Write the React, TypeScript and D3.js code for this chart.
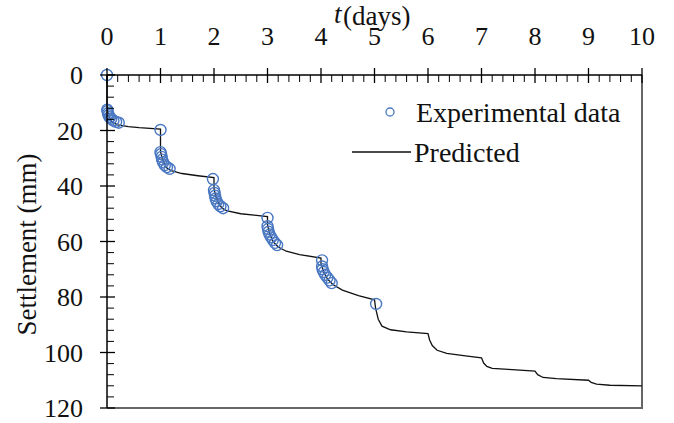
import * as d3 from "d3";

// t (days), settlement (mm)
const expT = [
  0, 0.005, 0.01, 0.02, 0.03, 0.05, 0.08, 0.12, 0.17, 0.22,
  1.0, 1.0, 1.01, 1.02, 1.03, 1.05, 1.08, 1.12, 1.17,
  1.98, 2.0, 2.01, 2.02, 2.03, 2.05, 2.08, 2.12, 2.17,
  3.0, 3.0, 3.01, 3.02, 3.04, 3.07, 3.1, 3.14, 3.18,
  4.02, 4.02, 4.03, 4.05, 4.08, 4.12, 4.16, 4.2,
  5.03,
];
const expS = [
  0, 12.5, 13, 13.8, 14.5, 15.2, 15.8, 16.4, 16.9, 17.2,
  19.8, 27.8, 28.5, 29.5, 30.5, 31.5, 32.5, 33.2, 33.8,
  37.5, 41.5, 42.5, 43.5, 44.5, 45.5, 46.5, 47.3, 48,
  51.5, 54.5, 55.5, 56.5, 57.5, 58.5, 59.5, 60.5, 61.3,
  66.8, 69, 70, 71, 72, 73, 74, 75,
  82.5,
];

const predT = [
  0, 0, 0.02, 0.05, 0.1, 0.2, 0.4, 0.6, 1.0,
  1.0, 1.03, 1.07, 1.12, 1.2, 1.4, 1.7, 2.0,
  2.0, 2.03, 2.08, 2.15, 2.25, 2.5, 2.75, 3.0,
  3.0, 3.04, 3.1, 3.2, 3.35, 3.6, 4.0,
  4.0, 4.05, 4.12, 4.22, 4.4, 4.7, 5.0,
  5.02, 5.07, 5.14, 5.3, 5.6, 6.0,
  6.03, 6.08, 6.17, 6.35, 6.7, 7.0,
  7.04, 7.1, 7.2, 7.5, 8.0,
  8.05, 8.15, 8.4, 9.0,
  9.05, 9.15, 9.4, 10,
];
const predS = [
  0, 11, 13.5, 15.5, 17, 18, 18.6, 19, 19.5,
  27.5, 30, 32, 33.5, 34.5, 35.5, 36.3, 37,
  41, 43.5, 46, 48, 49, 50, 50.5, 51,
  54, 57, 60, 62, 63.5, 64.7, 66,
  68, 71, 73.5, 75.5, 77.5, 79.5, 81,
  84, 88, 90.5, 91.8, 92.6, 93.2,
  95.5, 97.5, 99.2, 100.3, 101.2, 101.9,
  103.8, 105, 105.7, 106.1, 106.7,
  108, 109, 109.4, 110,
  110.8, 111.4, 111.8, 112,
];

const xTicks = [0, 1, 2, 3, 4, 5, 6, 7, 8, 9, 10];
const yTicks = [0, 20, 40, 60, 80, 100, 120];

const W = 674;
const H = 423;
const left = 107;
const right = 642;
const top = 75;
const bottom = 408;
const FONT = "'Liberation Serif', 'Times New Roman', serif";

export default function App() {
  const x = d3.scaleLinear().domain([0, 10]).range([left, right]);
  const y = d3.scaleLinear().domain([0, 120]).range([top, bottom]);

  const xMinor = d3.range(0, 50).map((i) => i * 0.2).filter((v) => Math.abs(v - Math.round(v)) > 1e-6);
  const yMinor = d3.range(0, 30).map((i) => i * 4).filter((v) => v % 20 !== 0);

  const pred = predT.map((t, i) => [t, predS[i]] as [number, number]);
  const line = d3
    .line<[number, number]>()
    .x((d) => x(d[0]))
    .y((d) => y(d[1]));

  return (
    <svg
      width={W}
      height={H}
      style={{ position: "absolute", left: 0, top: 0, background: "#fff" }}
      fontFamily={FONT}
    >
      {/* frame */}
      <line x1={right} x2={right} y1={top} y2={bottom} stroke="#666" strokeWidth={2} />
      <line x1={left} x2={right + 1} y1={bottom} y2={bottom} stroke="#666" strokeWidth={2} />

      {/* predicted */}
      <path d={line(pred) ?? ""} fill="none" stroke="#111" strokeWidth={1.3} />

      {/* experimental */}
      {expT.map((t, i) => (
        <circle
          key={i}
          cx={x(t)}
          cy={y(expS[i])}
          r={5.5}
          fill="none"
          stroke="#4a78c2"
          strokeWidth={1.4}
        />
      ))}

      {/* top axis */}
      <line x1={left} x2={right} y1={top} y2={top} stroke="#000" strokeWidth={1.5} />
      {xMinor.map((v, i) => (
        <line key={"xm" + i} x1={x(v)} x2={x(v)} y1={top} y2={top + 7} stroke="#000" strokeWidth={1} />
      ))}
      {xTicks.map((v) => (
        <g key={"xt" + v}>
          <line x1={x(v)} x2={x(v)} y1={top - 7} y2={top + 8} stroke="#000" strokeWidth={1.3} />
          <text x={x(v)} y={45} textAnchor="middle" fontSize={26} fill="#111">
            {v}
          </text>
        </g>
      ))}

      {/* left axis */}
      <line x1={left} x2={left} y1={top} y2={bottom} stroke="#000" strokeWidth={1.5} />
      {yMinor.map((v, i) => (
        <line key={"ym" + i} x1={left} x2={left + 7} y1={y(v)} y2={y(v)} stroke="#000" strokeWidth={1} />
      ))}
      {yTicks.map((v) => (
        <g key={"yt" + v}>
          <line x1={left - 7} x2={left + 8} y1={y(v)} y2={y(v)} stroke="#000" strokeWidth={1.3} />
          <text x={83} y={y(v) + 9} textAnchor="end" fontSize={26} fill="#111">
            {v}
          </text>
        </g>
      ))}

      {/* titles */}
      <text x={334} y={23} fontSize={27} fill="#111" fontStyle="italic">
        t
      </text>
      <text x={343} y={25} fontSize={27} fill="#111">
        (days)
      </text>
      <text
        transform={`translate(36,${(147 + 342) / 2}) rotate(-90)`}
        textAnchor="middle"
        fontSize={27}
        fill="#111"
      >
        Settlement (mm)
      </text>

      {/* legend */}
      <circle cx={390} cy={112} r={4} fill="none" stroke="#4a78c2" strokeWidth={1.3} />
      <text x={416} y={122} fontSize={28} fill="#111">
        Experimental data
      </text>
      <line x1={352} x2={411} y1={152} y2={152} stroke="#111" strokeWidth={1.3} />
      <text x={414} y={162} fontSize={28} fill="#111">
        Predicted
      </text>
    </svg>
  );
}
